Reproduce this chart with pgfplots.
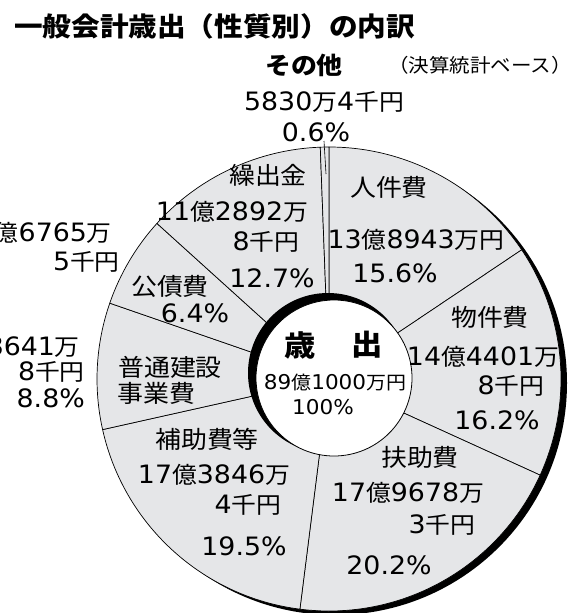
\documentclass[border=0pt]{standalone}
\usepackage{pgfplots}
\pgfplotsset{compat=1.18}
\usepackage{pgfplotstable}
\usepackage{fontspec}
\setmainfont{Noto Sans CJK JP}[FakeStretch=1.08]
\newfontfamily\lat{DejaVu Sans}[Scale=1.1,FakeStretch=1.06]
\definecolor{piegray}{RGB}{229,230,232}
\newcommand\n[1]{{\lat #1}}
\newcommand\fs[1]{\fontsize{#1}{#1}\selectfont}

% share of each item, clockwise from 12 o'clock (percent)
\pgfplotstableread{
item pct
jinkenhi 15.6
bukkenhi 16.2
fujohi 20.2
hojohi 19.5
futsukensetsu 8.8
kosaihi 6.4
kuridashi 12.7
sonota 0.6
}\slices

\begin{document}
\begin{tikzpicture}
\begin{axis}[x=1pt,y=1pt,xmin=0,xmax=576,ymin=0,ymax=613,y dir=reverse,
  hide axis,clip=false,anchor=south west,at={(0,0)}]
% shadow rim
\fill[black] (axis cs:335,383) circle[radius=232pt];
% wedges
\pgfplotstablegetrowsof{\slices}
\pgfmathtruncatemacro\N{\pgfplotsretval-1}
\def\cum{0}
\pgfplotsforeachungrouped \i in {0,...,\N}{%
  \pgfplotstablegetelem{\i}{pct}\of\slices
  \pgfmathsetmacro\aS{90-3.6*\cum}%
  \pgfmathsetmacro\aE{90-3.6*(\cum+\pgfplotsretval)}%
  \pgfmathsetmacro\cum{\cum+\pgfplotsretval}%
  \edef\temp{\noexpand\filldraw[fill=piegray,draw=black,line width=0.7pt,line join=round]
    (axis cs:329,379) -- ++(\aS:232pt) arc[start angle=\aS,end angle=\aE,radius=232pt] -- cycle;}%
  \temp
}
% centre hole
\fill[black] (axis cs:328,373) circle[radius=80pt];
\filldraw[fill=white,draw=black,line width=0.8pt] (axis cs:334,378) circle[radius=78pt];
% leader for sonota
\draw[line width=0.6pt] (axis cs:324,141) -- (axis cs:326,174);

% title and notes
\node[anchor=west,inner sep=0pt,font=\fs{26.5}\bfseries] at (axis cs:14,26) {一般会計歳出（性質別）の内訳};
\node[inner sep=0pt,font=\fs{24}\bfseries] at (axis cs:304,65) {その他};
\node[inner sep=0pt,font=\fs{19}] at (axis cs:480,65) {（決算統計ベース）};
\node[inner sep=0pt,font=\fs{23}] at (axis cs:324,102) {\n{5830}万\n{4}千円};
\node[inner sep=0pt,font=\fs{23}] at (axis cs:316,132) {\n{0.6\%}};

% kuridashi
\node[inner sep=0pt,font=\fs{24}] at (axis cs:268,175) {繰出金};
\node[inner sep=0pt,font=\fs{23}] at (axis cs:232,212) {\n{11}億\n{2892}万};
\node[inner sep=0pt,font=\fs{23}] at (axis cs:266,242) {\n{8}千円};
\node[inner sep=0pt,font=\fs{23}] at (axis cs:272,278) {\n{12.7\%}};
% jinkenhi
\node[inner sep=0pt,font=\fs{24}] at (axis cs:389,187) {人件費};
\node[inner sep=0pt,font=\fs{23}] at (axis cs:416,240) {\n{13}億\n{8943}万円};
\node[inner sep=0pt,font=\fs{23}] at (axis cs:395,273) {\n{15.6\%}};
% bukkenhi
\node[inner sep=0pt,font=\fs{24}] at (axis cs:490,317) {物件費};
\node[inner sep=0pt,font=\fs{23}] at (axis cs:483,357) {\n{14}億\n{4401}万};
\node[inner sep=0pt,font=\fs{23}] at (axis cs:511,386) {\n{8}千円};
\node[inner sep=0pt,font=\fs{23}] at (axis cs:497,420) {\n{16.2\%}};
% fujohi
\node[inner sep=0pt,font=\fs{24}] at (axis cs:420,457) {扶助費};
\node[inner sep=0pt,font=\fs{23}] at (axis cs:408,493) {\n{17}億\n{9678}万};
\node[inner sep=0pt,font=\fs{23}] at (axis cs:442,525) {\n{3}千円};
\node[inner sep=0pt,font=\fs{23}] at (axis cs:389,565) {\n{20.2\%}};
% hojohi
\node[inner sep=0pt,font=\fs{24}] at (axis cs:207,439) {補助費等};
\node[inner sep=0pt,font=\fs{23}] at (axis cs:214,475) {\n{17}億\n{3846}万};
\node[inner sep=0pt,font=\fs{23}] at (axis cs:248,505) {\n{4}千円};
\node[inner sep=0pt,font=\fs{23}] at (axis cs:244,546) {\n{19.5\%}};
% futsu kensetsu
\node[inner sep=0pt,font=\fs{24}] at (axis cs:170,367) {普通建設};
\node[anchor=west,inner sep=0pt,font=\fs{24}] at (axis cs:117,393) {事業費};
\node[anchor=east,inner sep=0pt,font=\fs{23}] at (axis cs:80,347) {\n{7}億\n{8641}万};
\node[anchor=east,inner sep=0pt,font=\fs{23}] at (axis cs:85,372) {\n{8}千円};
\node[anchor=east,inner sep=0pt,font=\fs{23}] at (axis cs:85,398) {\n{8.8\%}};
% kosaihi
\node[inner sep=0pt,font=\fs{24}] at (axis cs:170,286) {公債費};
\node[inner sep=0pt,font=\fs{23}] at (axis cs:195,313) {\n{6.4\%}};
\node[anchor=east,inner sep=0pt,font=\fs{23}] at (axis cs:112,233) {\n{5}億\n{6765}万};
\node[anchor=east,inner sep=0pt,font=\fs{23}] at (axis cs:120,262) {\n{5}千円};
% centre
\node[inner sep=0pt,font=\fs{29}\bfseries] at (axis cs:300,345) {歳};
\node[inner sep=0pt,font=\fs{29}\bfseries] at (axis cs:367,345) {出};
\node[inner sep=0pt,font=\fs{18.5}] at (axis cs:335,383) {\n{89}億\n{1000}万円};
\node[inner sep=0pt,font=\fs{18.5}] at (axis cs:323,407) {\n{100\%}};
\end{axis}
\pgfresetboundingbox
\path[use as bounding box] (0,0) rectangle (576pt,613pt);
\end{tikzpicture}
\end{document}
